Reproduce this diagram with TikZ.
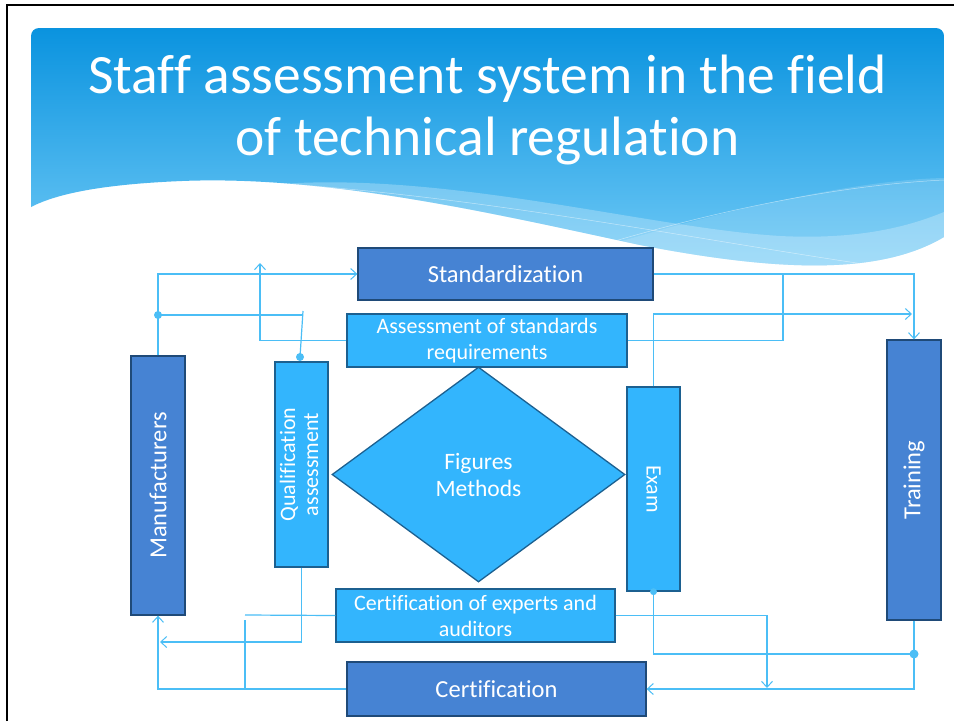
\documentclass[tikz,border=0pt]{standalone}
\usepackage{fontspec}
\setmainfont[Ligatures=NoCommon]{Carlito}
\usetikzlibrary{arrows.meta,shapes.geometric}
\definecolor{darkbox}{HTML}{4683D3}
\definecolor{darkedge}{HTML}{1F4A78}
\definecolor{lightbox}{HTML}{33B5FD}
\definecolor{lightedge}{HTML}{1C6090}
\definecolor{conn}{HTML}{4BBEF6}
\definecolor{hdtop}{HTML}{0A93DF}
\definecolor{hdbot}{HTML}{74CCF7}
\begin{document}
\begin{tikzpicture}[x=1pt,y=-1pt,
  darkrect/.style={draw=darkedge, fill=darkbox, line width=1.3pt, text=white, inner sep=0pt, align=center, font=\fontsize{24.5}{28}\selectfont},
  lightrect/.style={draw=lightedge, fill=lightbox, line width=1.3pt, text=white, inner sep=0pt, align=center, font=\fontsize{22}{26}\selectfont},
  link/.style={draw=conn, line width=1.2pt},
  arr/.style={-{Straight Barb[length=6pt,width=11pt,line width=1pt]}},
  titletext/.style={text=white, inner sep=0pt, anchor=base, font=\fontsize{55.5}{62}\selectfont}
]
% canvas
\fill[white] (0,0) rectangle (954,721);
\useasboundingbox (0,0) rectangle (954,721);
\draw[line width=2pt, black] (7,721) -- (7,5) -- (954,5);

% header
\begin{scope}
\clip (31,207) -- (31,36) arc[start angle=180,end angle=270,radius=8] -- (936,28)
  arc[start angle=270,end angle=360,radius=8] -- (944,237)
  .. controls (880,275) and (780,272) .. (640,245)
  .. controls (500,215) and (330,175) .. (182,181)
  .. controls (110,184) and (60,192) .. (31,207) -- cycle;
\shade[top color=hdtop, bottom color=hdbot] (31,28) rectangle (944,275);
\fill[white, opacity=0.25] (280,184) .. controls (450,172) and (650,228) .. (780,236)
  .. controls (860,240) and (910,226) .. (944,212) -- (944,300) -- (280,300) -- cycle;
\fill[white, opacity=0.15] (560,260) .. controls (700,215) and (850,180) .. (944,178) -- (944,300) -- cycle;
\draw[white, opacity=0.5, line width=0.5pt] (300,185) .. controls (500,200) and (700,240) .. (870,265);
\draw[white, opacity=0.5, line width=0.5pt] (608,243) .. controls (720,210) and (840,185) .. (944,180);
\end{scope}

\node[titletext] (title1) at (487.5,93) {Staff assessment system in the field};
\node[titletext] (title2) at (487.5,155) {of technical regulation};

% boxes
\node[darkrect, minimum width=295pt, minimum height=52pt] (std) at (505.5,274) {Standardization};
\node[lightrect, minimum width=280pt, minimum height=53pt] (asr) at (487,340.5) {Assessment of standards\\requirements};
\node[darkrect, minimum width=54pt, minimum height=259pt] (man) at (158,485.5) {\rotatebox{90}{Manufacturers}};
\node[lightrect, minimum width=53pt, minimum height=205pt] (qa) at (301.5,464.5)
  {\rotatebox{90}{\begin{tabular}{@{}c@{}}Qualification\\[-3pt]assessment\end{tabular}}};
\node[lightrect, diamond, minimum width=293pt, minimum height=215pt, font=\fontsize{23.5}{27}\selectfont] (dia) at (478.5,474.5) {Figures\\Methods};
\node[lightrect, minimum width=53pt, minimum height=204pt] (exam) at (653.5,489) {\rotatebox{-90}{Exam}};
\node[darkrect, minimum width=54pt, minimum height=280pt] (trn) at (914,480) {\rotatebox{90}{Training}};
\node[lightrect, minimum width=279pt, minimum height=53pt] (cea) at (475.5,615.5) {Certification of experts and\\auditors};
\node[darkrect, minimum width=299pt, minimum height=54pt] (cert) at (496.5,689) {Certification};

% helper coordinates
\coordinate (d1) at (158,315);
\coordinate (q1) at (303,315);
\coordinate (q1t) at (303,311);
\coordinate (qdot) at (300,357);
\coordinate (c3) at (260,263);
\coordinate (c5) at (783,274);
\coordinate (c6) at (912,314);
\coordinate (c7) at (160,642);
\coordinate (c8a) at (245,615);
\coordinate (c8b) at (245,620);
\coordinate (c8c) at (245,689);
\coordinate (d3) at (914,654);
\coordinate (c12) at (767,688);

% connectors
\draw[link, arr] (man.north) |- (std.west);
\draw[link] (d1) -- (q1);
\draw[link] (q1t) -- (qdot);
\draw[link, arr] (asr.west) -| (c3);
\draw[link, arr] (std.east) -| (trn.north);
\draw[link] (asr.east) -| (c5);
\draw[link, arr] (exam.north) |- (c6);
\draw[link, arr] (qa.south) |- (c7);
\draw[link] (cea.west) -- (c8a);
\draw[draw=conn, line width=2.8pt] (c8b) -- (c8c);
\draw[link, arr] (cert.west) -| (man.south);
\draw[link] (exam.south) |- (d3);
\draw[link, arr] (trn.south) |- (cert.east);
\draw[link, arr] (cea.east) -| (c12);

% dots
\fill[conn] (d1) circle (4);
\fill[conn] (qdot) circle (4);
\fill[conn] (exam.south) circle (3.5);
\fill[conn] (d3) circle (4.5);
\end{tikzpicture}
\end{document}
